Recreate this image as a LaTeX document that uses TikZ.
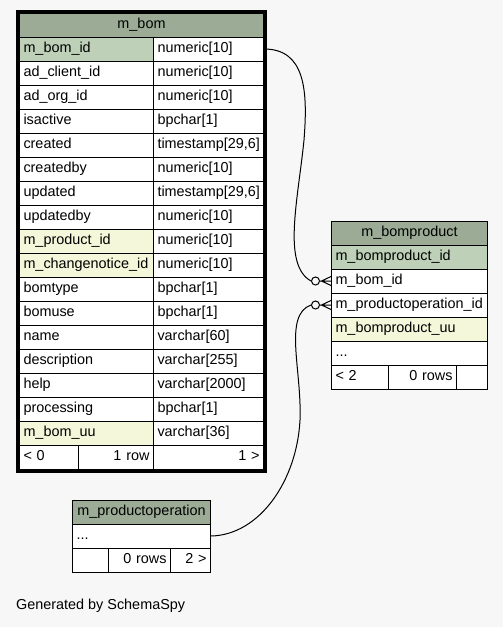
\documentclass[tikz,border=0pt]{standalone}
\usepackage{fontspec}
\setmainfont{Liberation Sans}
\definecolor{bgcol}{HTML}{F7F7F7}
\definecolor{hdcol}{HTML}{9BAB96}
\definecolor{pkcol}{HTML}{BED1B8}
\definecolor{ixcol}{HTML}{F4F7DA}
\tikzset{
  cell/.style={draw, line width=1pt, fill=white, anchor=west,
    minimum height=24pt, inner xsep=4pt, inner ysep=0pt,
    text height=10pt, text depth=3pt, align=left},
  hd/.style={cell, fill=hdcol, align=center},
  pk/.style={fill=pkcol},
  ix/.style={fill=ixcol},
  pl/.style={fill=white},
  rt/.style={align=right},
  odot/.style={circle, draw, line width=1pt, fill=bgcol,
    minimum size=8pt, inner sep=0pt},
  rel/.style={line width=1pt}
}
\begin{document}
\begin{tikzpicture}[x=1pt, y=-1pt, font=\fontsize{14.4}{17}\selectfont]
\fill[bgcol] (0,0) rectangle (503,627);
\useasboundingbox (0,0) rectangle (503,627);
% m_bom
\node[hd, text width=236pt] (bom) at (19,25) {m\_bom};
\foreach \n/\t/\f [count=\i] in {
	m\_bom\_id/numeric[10]/pk, ad\_client\_id/numeric[10]/pl,
	ad\_org\_id/numeric[10]/pl, isactive/bpchar[1]/pl,
	created/{timestamp[29,6]}/pl, createdby/numeric[10]/pl,
	updated/{timestamp[29,6]}/pl, updatedby/numeric[10]/pl,
	m\_product\_id/numeric[10]/ix, m\_changenotice\_id/numeric[10]/ix,
	bomtype/bpchar[1]/pl, bomuse/bpchar[1]/pl,
	name/varchar[60]/pl, description/varchar[255]/pl,
	help/varchar[2000]/pl, processing/bpchar[1]/pl,
	m\_bom\_uu/varchar[36]/ix} {
  \node[cell, \f, text width=126pt] (bom-\i) at (19,{25+24*\i}) {\n};
  \node[cell, text width=102pt] (bom-\i-t) at (153,{25+24*\i}) {\t};
}
\node[cell, text width=51pt] (bom-f1) at (19,457) {< 0};
\node[cell, rt, text width=67pt] (bom-f2) at (78,457) {1 row};
\node[cell, rt, text width=102pt] (bom-f3) at (153,457) {1 >};
% m_bomproduct
\node[hd, text width=148pt] (bp) at (331,233) {m\_bomproduct};
\foreach \n/\f [count=\i] in {m\_bomproduct\_id/pk, m\_bom\_id/pl,
	m\_productoperation\_id/pl, m\_bomproduct\_uu/ix}
  \node[cell, \f, text width=148pt] (bp-\i) at (331,{233+24*\i}) {\n};
\node[cell, text width=148pt] (bp-5) at (331,353) {...};
\node[cell, text width=49pt] (bp-f1) at (331,377) {< 2};
\node[cell, rt, text width=60pt] (bp-f2) at (388,377) {0 rows};
\node[cell, text width=23pt] (bp-f3) at (456,377) {};
% m_productoperation
\node[hd, text width=130pt] (po) at (72,512) {m\_productoperation};
\node[cell, text width=130pt] (po-1) at (72,536) {...};
\node[cell, text width=28pt] (po-f1) at (72,560) {};
\node[cell, rt, text width=54pt] (po-f2) at (108,560) {0 rows};
\node[cell, rt, text width=32pt] (po-f3) at (170,560) {2 >};
% relations
\node[odot] (o1) at (315.5,281) {};
\node[odot] (o2) at (315.5,305) {};
\draw[rel] (bom-1-t.east) .. controls (305,49) and (308,90) .. (304,140)
	.. controls (298,200) and (282,265) .. (o1.west);
\draw[rel] (po-1.east) .. controls (260,535) and (297,480) .. (300,420)
	.. controls (302,370) and (283,315) .. (o2.west);
\foreach \k/\r in {1/2, 2/3}
  \draw[rel] ([yshift=4.5pt]bp-\r.west) -- ([xshift=1.5pt]o\k.east)
	-- ([yshift=-4.5pt]bp-\r.west) (o\k.east) -- (bp-\r.west);
\draw[line width=3pt] ([shift={(-1.5,-1.5)}]bom.north west)
	rectangle ([shift={(1.5,1.5)}]bom-f3.south east);
\node[anchor=west, inner sep=0pt] (gen) at (16,606) {Generated by SchemaSpy};
\end{tikzpicture}
\end{document}
